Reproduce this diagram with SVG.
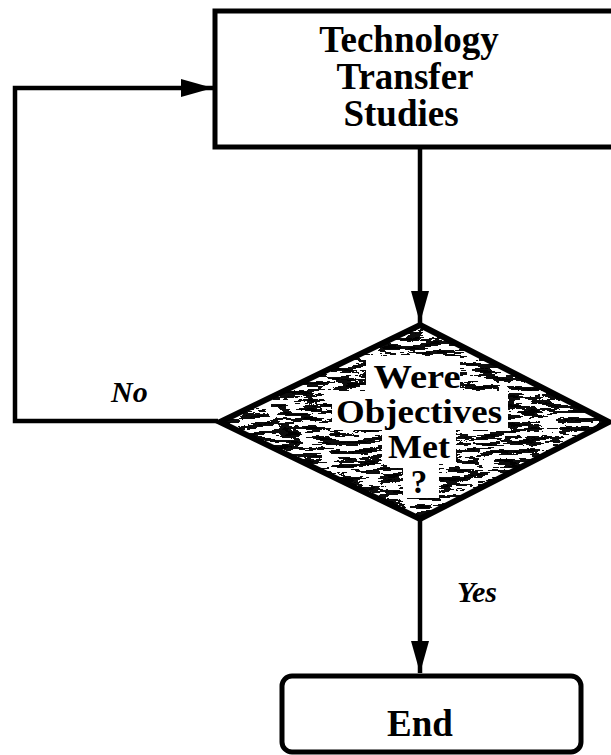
<svg xmlns="http://www.w3.org/2000/svg" width="611" height="755" viewBox="0 0 611 755">
<style>
.box{fill:#fff;stroke:#000;stroke-width:5}
.lbl{font-family:"Liberation Serif","Times New Roman",serif;font-weight:bold;font-size:37px;fill:#000;text-anchor:middle}
.dlbl{font-size:33px}
.edge{fill:none;stroke:#000;stroke-width:4.5}
.elbl{font-family:"Liberation Serif","Times New Roman",serif;font-weight:bold;font-style:italic;font-size:30px;fill:#000}
</style>
<defs>
<marker id="ah" markerUnits="userSpaceOnUse" markerWidth="34" markerHeight="20" refX="32" refY="10" orient="auto">
<path d="M0,1 L32,10 L0,19 z" fill="#000"/>
</marker>
<filter id="grain" x="0" y="0" width="1" height="1">
<feTurbulence type="fractalNoise" baseFrequency="0.05 0.22" numOctaves="5" seed="11" result="n"/>
<feColorMatrix in="n" type="matrix" values="0 0 0 0 0  0 0 0 0 0  0 0 0 0 0  1 0 0 0 0" result="a"/>
<feComponentTransfer in="a" result="t">
<feFuncA type="discrete" tableValues="0 0 0 0.95 1 1"/>
</feComponentTransfer>
<feComposite in="t" in2="SourceGraphic" operator="in"/>
</filter>
</defs>
<g id="connectors">
<path class="edge" d="M218,421 H15 V88 H213" marker-end="url(#ah)"/>
<path class="edge" d="M420,149 V323" marker-end="url(#ah)"/>
<path class="edge" d="M420,520 V673" marker-end="url(#ah)"/>
<text class="elbl" x="111" y="402">No</text>
<text class="elbl" x="457" y="602">Yes</text>
</g>
<g id="node-studies">
<rect class="box" x="215" y="11" width="420" height="136"/>
<text class="lbl" x="409" y="52">Technology</text>
<text class="lbl" x="405" y="89">Transfer</text>
<text class="lbl" x="401" y="126">Studies</text>
</g>
<g id="node-decision">
<polygon points="420,325 609,422 420,519 220,422" fill="#fff"/>
<polygon points="420,325 609,422 420,519 220,422" fill="#000" filter="url(#grain)"/>
<rect x="366" y="356" width="94" height="36" fill="#fff"/>
<rect x="332" y="391" width="176" height="39" fill="#fff"/>
<rect x="382" y="428" width="74" height="36" fill="#fff"/>
<rect x="403" y="462" width="36" height="36" fill="#fff"/>
<polygon points="420,325 609,422 420,519 220,422" fill="none" stroke="#000" stroke-width="6" stroke-linejoin="miter"/>
<text class="lbl dlbl" x="417" y="388" textLength="87" lengthAdjust="spacingAndGlyphs">Were</text>
<text class="lbl dlbl" x="419" y="423" textLength="166" lengthAdjust="spacingAndGlyphs">Objectives</text>
<text class="lbl dlbl" x="419" y="458" textLength="62" lengthAdjust="spacingAndGlyphs">Met</text>
<text class="lbl dlbl" x="419" y="493">?</text>
</g>
<g id="node-end">
<rect class="box" x="282" y="676" width="299" height="76" rx="10"/>
<text class="lbl" x="420" y="736">End</text>
</g>
</svg>
